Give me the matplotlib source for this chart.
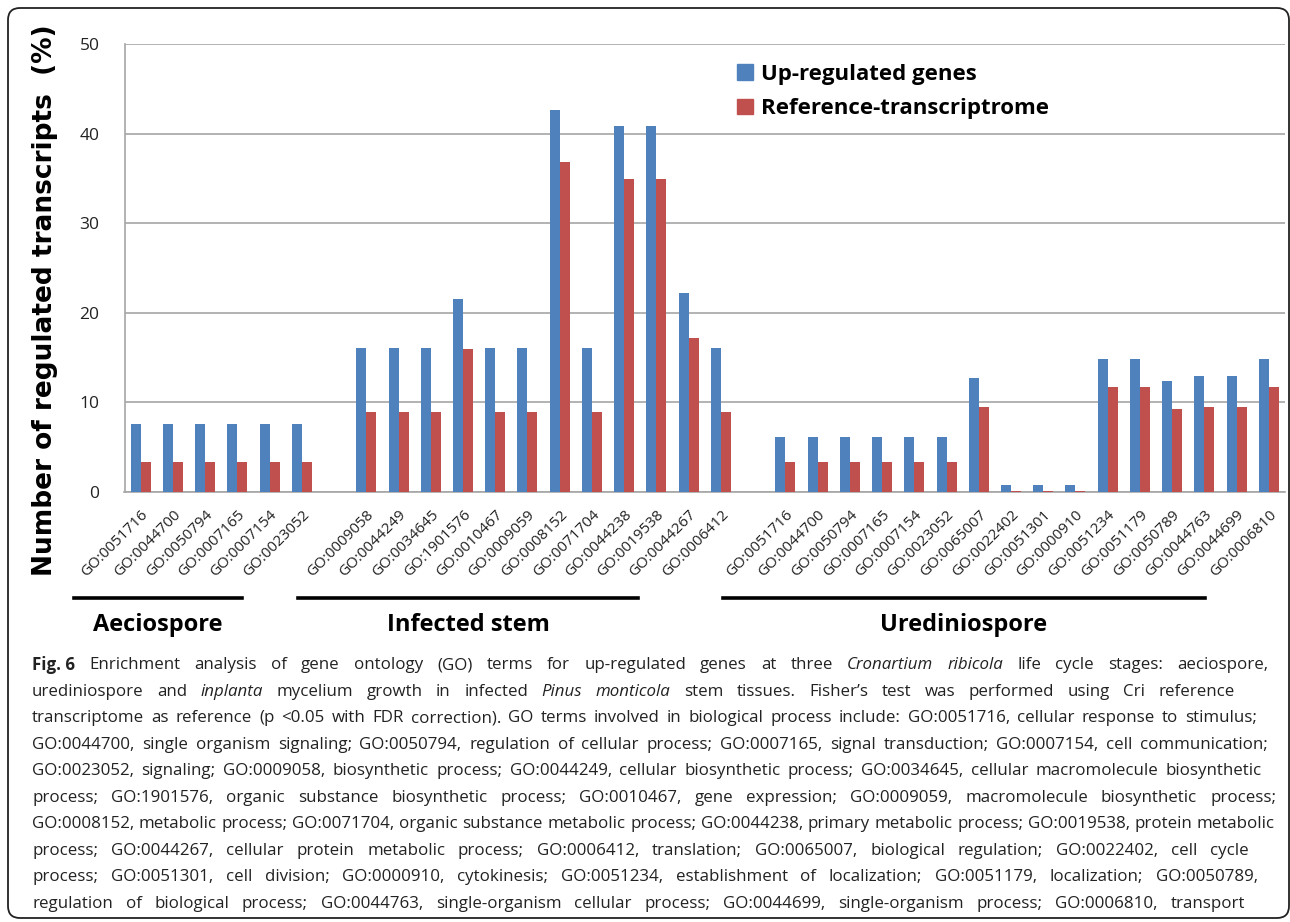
import matplotlib
matplotlib.use("Agg")
import numpy as np
import matplotlib.pyplot as plt
from matplotlib.patches import FancyBboxPatch, Patch
from matplotlib.lines import Line2D
from matplotlib.transforms import IdentityTransform

# ---- data -------------------------------------------------------------
aecio_terms = ["GO:0051716", "GO:0044700", "GO:0050794", "GO:0007165",
               "GO:0007154", "GO:0023052"]
aecio_up = [7.6, 7.6, 7.6, 7.6, 7.6, 7.6]
aecio_ref = [3.4, 3.4, 3.4, 3.4, 3.4, 3.4]

infected_terms = ["GO:0009058", "GO:0044249", "GO:0034645", "GO:1901576",
                  "GO:0010467", "GO:0009059", "GO:0008152", "GO:0071704",
                  "GO:0044238", "GO:0019538", "GO:0044267", "GO:0006412"]
infected_up = [16.1, 16.1, 16.1, 21.5, 16.1, 16.1, 42.6, 16.1, 40.9, 40.9, 22.2, 16.1]
infected_ref = [8.9, 8.9, 8.9, 16.0, 8.9, 8.9, 36.8, 8.9, 34.9, 34.9, 17.2, 8.9]

uredo_terms = ["GO:0051716", "GO:0044700", "GO:0050794", "GO:0007165",
               "GO:0007154", "GO:0023052", "GO:0065007", "GO:0022402",
               "GO:0051301", "GO:0000910", "GO:0051234", "GO:0051179",
               "GO:0050789", "GO:0044763", "GO:0044699", "GO:0006810"]
uredo_up = [6.1, 6.1, 6.1, 6.1, 6.1, 6.1, 12.7, 0.8, 0.8, 0.8, 14.8, 14.8, 12.4, 13.0, 13.0, 14.8]
uredo_ref = [3.3, 3.3, 3.3, 3.3, 3.3, 3.3, 9.5, 0.15, 0.15, 0.15, 11.7, 11.7, 9.3, 9.5, 9.5, 11.7]

groups = ["Aeciospore", "Infected stem", "Urediniospore"]
series = ["Up-regulated genes", "Reference-transcriptrome"]
yticks = [0, 10, 20, 30, 40, 50]

caption = [
    [("Fig. 6", "bold"), ("Enrichment analysis of gene ontology (GO) terms for up-regulated genes at three", "normal"),
     ("Cronartium ribicola", "italic"), ("life cycle stages: aeciospore,", "normal")],
    [("urediniospore and", "normal"), ("inplanta", "italic"), ("mycelium growth in infected", "normal"),
     ("Pinus monticola", "italic"), ("stem tissues. Fisher\u2019s test was performed using Cri reference", "normal")],
    [("transcriptome as reference (p <0.05 with FDR correction). GO terms involved in biological process include: GO:0051716, cellular response to stimulus;", "normal")],
    [("GO:0044700, single organism signaling; GO:0050794, regulation of cellular process; GO:0007165, signal transduction; GO:0007154, cell communication;", "normal")],
    [("GO:0023052, signaling; GO:0009058, biosynthetic process; GO:0044249, cellular biosynthetic process; GO:0034645, cellular macromolecule biosynthetic", "normal")],
    [("process; GO:1901576, organic substance biosynthetic process; GO:0010467, gene expression; GO:0009059, macromolecule biosynthetic process;", "normal")],
    [("GO:0008152, metabolic process; GO:0071704, organic substance metabolic process; GO:0044238, primary metabolic process; GO:0019538, protein metabolic", "normal")],
    [("process; GO:0044267, cellular protein metabolic process; GO:0006412, translation; GO:0065007, biological regulation; GO:0022402, cell cycle", "normal")],
    [("process; GO:0051301, cell division; GO:0000910, cytokinesis; GO:0051234, establishment of localization; GO:0051179, localization; GO:0050789,", "normal")],
    [("regulation of biological process; GO:0044763, single-organism cellular process; GO:0044699, single-organism process; GO:0006810, transport", "normal")],
]
caption_ends = [1268, 1235, 1257, 1268, 1262, 1276, 1275, 1249, 1258, 1245]

# ---- layout helpers (image pixel coords, y downwards) -----------------
W, H = 1290, 922
BLUE, RED = "#4F81BD", "#C0504D"
NARROW = ["Liberation Sans Narrow", "Open Sans"]


def fx(px):
    return px / W


def fy(py):
    return 1 - py / H


fig = plt.figure(figsize=(W / 100, H / 100), dpi=100)

frame = FancyBboxPatch((8, H - 918), 1281, 910,
                       boxstyle="round,pad=0,rounding_size=12",
                       transform=IdentityTransform(), fill=False,
                       edgecolor="#222222", linewidth=1.3)
fig.patches.append(frame)

ax = fig.add_axes([fx(124.5), fy(492), (1285 - 124.5) / W, (492 - 44) / H])

terms = aecio_terms + [""] + infected_terms + [""] + uredo_terms
up = aecio_up + [0] + infected_up + [0] + uredo_up
ref = aecio_ref + [0] + infected_ref + [0] + uredo_ref
x = np.arange(len(terms))
bw = 0.31
ax.bar(x - bw / 2, up, bw, color=BLUE, zorder=3)
ax.bar(x + bw / 2, ref, bw, color=RED, zorder=3)

ax.set_xlim(-0.5, len(terms) - 0.5)
ax.set_ylim(0, 50)
ax.set_yticks(yticks)
ax.set_yticklabels([str(v) for v in yticks], fontfamily="Open Sans", fontsize=12.5, color="#222222")
ax.tick_params(axis="y", length=0, pad=18)
ax.grid(axis="y", color="#A6A6A6", linewidth=1.2, zorder=0)
for s in ["top", "right"]:
    ax.spines[s].set_visible(False)
for s in ["left", "bottom"]:
    ax.spines[s].set_color("#A6A6A6")
    ax.spines[s].set_linewidth(1.2)

ax.set_xticks(x)
ax.set_xticklabels(terms, rotation=45, ha="right", rotation_mode="anchor",
                   fontfamily="Open Sans", fontsize=11, color="#222222")
ax.tick_params(axis="x", length=0, pad=11)

fig.text(fx(45), fy(300), "Number of regulated transcripts  (%)", rotation=90,
         ha="center", va="center", fontfamily="DejaVu Sans", fontweight="bold", fontsize=19)

handles = [Patch(color=BLUE), Patch(color=RED)]
ax.legend(handles, series, loc="upper left", bbox_to_anchor=(fx(717), fy(44)),
          bbox_transform=fig.transFigure, frameon=False, handlelength=0.7,
          handleheight=0.7, handletextpad=0.4, labelspacing=0.6,
          prop={"family": NARROW, "weight": "bold", "size": 16})

# group underlines and names
group_lines = [(74, 242), (298, 638), (723, 1205)]
for (x0, x1), name in zip(group_lines, groups):
    fig.add_artist(Line2D([fx(x0), fx(x1)], [fy(598), fy(598)], color="black", linewidth=2.6))
    fig.text(fx((x0 + x1) / 2), fy(625), name, ha="center", va="center",
             fontfamily=NARROW, fontweight="bold", fontsize=17)

# caption, justified line by line
renderer = fig.canvas.get_renderer()
cap_left, cap_top, cap_step = 32, 665, 26.5
cap_size = 12.2
probe = fig.text(0, 0, "a a", fontfamily="Open Sans", fontsize=cap_size)
probe2 = fig.text(0, 0, "aa", fontfamily="Open Sans", fontsize=cap_size)
space_w = probe.get_window_extent(renderer).width - probe2.get_window_extent(renderer).width
probe.remove()
probe2.remove()

for i, runs in enumerate(caption):
    words = []
    for text, style in runs:
        if style == "bold":
            words.append((text, style))
        else:
            words += [(w, style) for w in text.split()]
    arts = []
    for w, style in words:
        t = fig.text(0, fy(cap_top + i * cap_step), w, ha="left", va="center",
                     fontfamily="Open Sans", fontsize=cap_size, color="#222222",
                     fontweight="bold" if style == "bold" else "normal",
                     fontstyle="italic" if style == "italic" else "normal")
        arts.append(t)
    widths = [a.get_window_extent(renderer).width for a in arts]
    gap = (caption_ends[i] - cap_left - sum(widths)) / max(len(arts) - 1, 1)
    gap = max(gap, space_w * 0.6)
    pos = cap_left
    for a, wd in zip(arts, widths):
        a.set_x(fx(pos))
        pos += wd + gap

fig.savefig("out.png", dpi=100)
